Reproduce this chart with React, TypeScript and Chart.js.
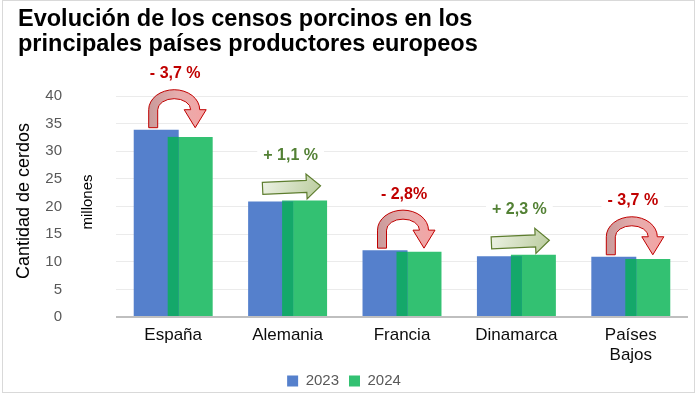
import React, { useEffect, useRef } from "react";
import { Chart, registerables } from "chart.js";

Chart.register(...registerables);

const titleLines = ["Evolución de los censos porcinos en los", "principales países productores europeos"];
const categories: (string | string[])[] = ["España", "Alemania", "Francia", "Dinamarca", ["Países", "Bajos"]];
const values2023 = [33.9, 20.9, 12.1, 11.0, 10.9];
const values2024 = [32.6, 21.1, 11.8, 11.25, 10.5];
const changeLabels = ["- 3,7 %", "+ 1,1 %", "- 2,8%", "+ 2,3 %", "- 3,7 %"];
const changeUp = [false, true, false, true, false];
const yTitle = "Cantidad de cerdos";
const yUnit = "millones";
const seriesNames = ["2023", "2024"];

const FONT = "'Liberation Sans', Arial, sans-serif";

function drawLabel(ctx: CanvasRenderingContext2D, text: string, x: number, y: number, color: string) {
  ctx.save();
  ctx.font = `bold 16px ${FONT}`;
  const w = ctx.measureText(text).width;
  ctx.fillStyle = "#ffffff";
  ctx.fillRect(x - w / 2 - 6, y - 11, w + 12, 22);
  ctx.fillStyle = color;
  ctx.textAlign = "center";
  ctx.textBaseline = "middle";
  ctx.fillText(text, x, y);
  ctx.restore();
}

function drawCurvedArrow(ctx: CanvasRenderingContext2D, x1: number, x2: number, base: number, cy: number, apex: number, tip: number) {
  const t = 9;
  const hw = 11;
  const cx = (x1 + x2) / 2;
  const r = (x2 - x1) / 2;
  const ry = cy - apex - t / 2;
  ctx.save();
  ctx.beginPath();
  ctx.moveTo(x1 - t / 2, base);
  ctx.lineTo(x1 - t / 2, cy);
  ctx.ellipse(cx, cy, r + t / 2, ry + t / 2, 0, Math.PI, 2 * Math.PI, false);
  ctx.lineTo(x2 + hw, cy);
  ctx.lineTo(x2, tip);
  ctx.lineTo(x2 - hw, cy);
  ctx.lineTo(cx + r - t / 2, cy);
  ctx.ellipse(cx, cy, r - t / 2, ry - t / 2, 0, 2 * Math.PI, Math.PI, true);
  ctx.lineTo(x1 + t / 2, base);
  ctx.closePath();
  const g = ctx.createLinearGradient(x1 - t / 2, 0, x2 + hw, 0);
  g.addColorStop(0, "#c99a9a");
  g.addColorStop(0.5, "#e6adad");
  g.addColorStop(1, "#f5a3a3");
  ctx.fillStyle = g;
  ctx.fill();
  ctx.strokeStyle = "#c00000";
  ctx.lineWidth = 1;
  ctx.stroke();
  ctx.restore();
}

function drawStraightArrow(ctx: CanvasRenderingContext2D, x: number, y: number, len: number, angle: number) {
  const sh = 6;
  const hh = 12.5;
  const hl = 14;
  ctx.save();
  ctx.translate(x, y);
  ctx.rotate(angle);
  ctx.beginPath();
  ctx.moveTo(0, -sh);
  ctx.lineTo(len - hl, -sh);
  ctx.lineTo(len - hl, -hh);
  ctx.lineTo(len, 0);
  ctx.lineTo(len - hl, hh);
  ctx.lineTo(len - hl, sh);
  ctx.lineTo(0, sh);
  ctx.closePath();
  const g = ctx.createLinearGradient(0, -hh, len, hh);
  g.addColorStop(0, "#eef3e6");
  g.addColorStop(1, "#b9cb9c");
  ctx.fillStyle = g;
  ctx.fill();
  ctx.strokeStyle = "#5d7d2e";
  ctx.lineWidth = 1.2;
  ctx.stroke();
  ctx.restore();
}

const decorPlugin = {
  id: "decor",
  beforeDraw(chart: any) {
    const ctx = chart.ctx as CanvasRenderingContext2D;
    ctx.save();
    ctx.fillStyle = "#ffffff";
    ctx.fillRect(0, 0, chart.width, chart.height);
    ctx.strokeStyle = "#d9d9d9";
    ctx.lineWidth = 1;
    ctx.strokeRect(2.5, 0.5, chart.width - 5, chart.height - 4);
    ctx.fillStyle = "#000000";
    ctx.font = `bold 23.5px ${FONT}`;
    ctx.textAlign = "left";
    ctx.textBaseline = "alphabetic";
    ctx.fillText(titleLines[0], 18, 26);
    ctx.fillText(titleLines[1], 18, 51);
    ctx.font = `18px ${FONT}`;
    ctx.textAlign = "center";
    ctx.textBaseline = "middle";
    ctx.translate(24, 201);
    ctx.rotate(-Math.PI / 2);
    ctx.fillText(yTitle, 0, 0);
    ctx.restore();
    ctx.save();
    ctx.font = `15px ${FONT}`;
    ctx.fillStyle = "#000000";
    ctx.textAlign = "center";
    ctx.textBaseline = "middle";
    ctx.translate(88, 202);
    ctx.rotate(-Math.PI / 2);
    ctx.fillText(yUnit, 0, 0);
    ctx.restore();
  },
  afterDatasetsDraw(chart: any) {
    const ctx = chart.ctx as CanvasRenderingContext2D;
    const m0 = chart.getDatasetMeta(0);
    const m1 = chart.getDatasetMeta(1);
    for (let i = 0; i < categories.length; i++) {
      const b = m0.data[i];
      const g = m1.data[i];
      const left = g.x - g.width / 2;
      const right = b.x + b.width / 2;
      const top = Math.max(b.y, g.y);
      ctx.save();
      ctx.fillStyle = "#14a86a";
      ctx.fillRect(left, top, right - left, b.base - top);
      ctx.restore();
      const c = (b.x + g.x) / 2;
      if (changeUp[i]) {
        drawStraightArrow(ctx, c - 25, g.y - 12, 58, -0.045);
        drawLabel(ctx, changeLabels[i], c + 3, g.y - 45, "#538135");
      } else {
        const cy = b.y - 20;
        drawCurvedArrow(ctx, c - 20, c + 22, b.y - 2, cy, b.y - 40, cy + 18);
        drawLabel(ctx, changeLabels[i], c + 2, b.y - 56, "#c00000");
      }
    }
  },
};

export default function App() {
  const ref = useRef<HTMLCanvasElement | null>(null);
  useEffect(() => {
    if (!ref.current) return;
    const chart = new Chart(ref.current, {
      type: "bar",
      data: {
        labels: categories,
        datasets: [
          { label: seriesNames[0], data: values2023, backgroundColor: "#5580cc", borderWidth: 0 },
          { label: seriesNames[1], data: values2024, backgroundColor: "#33c172", borderWidth: 0 },
        ],
      },
      options: {
        responsive: false,
        animation: false,
        devicePixelRatio: 1,
        layout: { padding: { top: 96, left: 0, right: 9, bottom: -2.5 } },
        datasets: { bar: { categoryPercentage: 0.594, barPercentage: 1.324 } },
        plugins: {
          title: { display: false },
          tooltip: { enabled: false },
          legend: {
            position: "bottom",
            labels: {
              boxWidth: 11,
              boxHeight: 11,
              padding: 10,
              color: "#595959",
              font: { family: FONT, size: 15 },
            },
          },
        },
        scales: {
          x: {
            grid: { display: false },
            border: { display: false },
            ticks: { color: "#0d0d0d", font: { family: FONT, size: 17 }, padding: 0, maxRotation: 0, autoSkip: false },
            afterFit: (s: any) => { s.height = 46.5; },
          },
          y: {
            min: 0,
            max: 40,
            border: { display: false },
            grid: {
              drawTicks: false,
              color: (c: any) => (c.tick && c.tick.value === 0 ? "#bfbfbf" : "#ebebeb"),
              lineWidth: (c: any) => (c.tick && c.tick.value === 0 ? 2 : 1),
            },
            ticks: { stepSize: 5, color: "#595959", font: { family: FONT, size: 15 }, padding: 54 },
            afterFit: (s: any) => { s.width = 116; },
          },
        },
      },
      plugins: [decorPlugin],
    });
    return () => chart.destroy();
  }, []);
  return (
    <div style={{ position: "fixed", left: 0, top: 0, width: 697, height: 396, background: "#fff" }}>
      <canvas ref={ref} width={697} height={396} style={{ width: 697, height: 396, display: "block" }} />
    </div>
  );
}
